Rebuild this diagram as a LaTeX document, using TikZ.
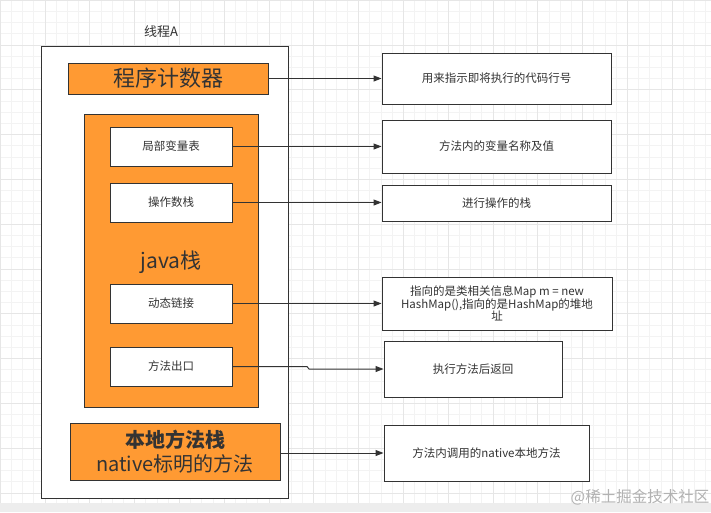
\documentclass[tikz,border=0pt]{standalone}
\usepackage{fontspec}
\setmainfont{Noto Sans CJK SC}
\usetikzlibrary{arrows.meta}
\definecolor{orangefill}{HTML}{FF9A33}
\definecolor{edge}{HTML}{333333}
\definecolor{txt}{HTML}{333333}
\definecolor{gridminor}{HTML}{F3F3F3}
\definecolor{gridmajor}{HTML}{E6E6E6}
\tikzset{
  frame/.style={draw=edge, line width=1pt, fill=white, inner sep=0pt},
  orangebox/.style={draw=edge, line width=1pt, fill=orangefill, inner sep=0pt, text=txt, align=center},
  whitebox/.style={draw=edge, line width=1pt, fill=white, inner sep=0pt, text=txt, align=center, font=\fontsize{11.5}{14}\selectfont},
  conn/.style={draw=edge, line width=1pt, -{Triangle[length=8pt,width=6pt]}},
}
\begin{document}
\begin{tikzpicture}[x=1pt,y=-1pt]
\useasboundingbox (0,0) rectangle (711,512);
\fill[white] (0,0) rectangle (711,512);
% grid
\foreach \i in {0,...,64} {\draw[gridminor, line width=0.5pt] ({\i*11.2},0) -- ({\i*11.2},512);}
\foreach \j in {0,...,46} {\draw[gridminor, line width=0.5pt] (0,{\j*11.2}) -- (711,{\j*11.2});}
\foreach \i in {0,...,16} {\draw[gridmajor, line width=0.6pt] ({\i*44.8},0) -- ({\i*44.8},512);}
\foreach \j in {0,...,11} {\draw[gridmajor, line width=0.6pt] (0,{\j*44.8}) -- (711,{\j*44.8});}
\fill[black!7] (0,503) rectangle (711,512);

% thread frame
\node[frame, minimum width=247pt, minimum height=452pt] (frame) at (164.5,272) {};
\node[text=txt, font=\fontsize{13}{15}\selectfont] (tlabel) at (161,32) {线程A};

% left side
\node[orangebox, minimum width=200pt, minimum height=31pt, font=\fontsize{22}{26}\selectfont] (pc) at (168,78.5) {程序计数器};
\node[orangebox, minimum width=174pt, minimum height=293pt] (java) at (171,260.5) {};
\node[text=txt, font=\fontsize{21}{25}\selectfont] (javalabel) at (171,262) {java栈};
\node[whitebox, minimum width=122pt, minimum height=39pt] (lv) at (171,146.5) {局部变量表};
\node[whitebox, minimum width=122pt, minimum height=39pt] (os) at (171,202.5) {操作数栈};
\node[whitebox, minimum width=122pt, minimum height=39pt] (dl) at (171,303.5) {动态链接};
\node[whitebox, minimum width=122pt, minimum height=39pt] (me) at (171,366.5) {方法出口};
\node[orangebox, minimum width=210pt, minimum height=57pt, font=\fontsize{20}{24}\selectfont] (nat) at (175,452) {\textbf{本地方法栈}\\native标明的方法};

% right side
\node[whitebox, minimum width=229pt, minimum height=51pt] (r1) at (496.5,78.5) {用来指示即将执行的代码行号};
\node[whitebox, minimum width=229pt, minimum height=53pt] (r2) at (496.5,146.5) {方法内的变量名称及值};
\node[whitebox, minimum width=229pt, minimum height=36pt] (r3) at (496.5,203) {进行操作的栈};
\node[whitebox, minimum width=230pt, minimum height=53pt, font=\fontsize{11.5}{12.5}\selectfont] (r4) at (497,303.5) {指向的是类相关信息Map m = new\\HashMap(),指向的是HashMap的堆地\\址};
\node[whitebox, minimum width=178pt, minimum height=56pt] (r5) at (473,369) {执行方法后返回};
\node[whitebox, minimum width=205pt, minimum height=56pt] (r6) at (486.5,453) {方法内调用的native本地方法};

% connectors
\draw[conn] (pc.east) -- (pc.east -| r1.west);
\draw[conn] (lv.east) -- (lv.east -| r2.west);
\draw[conn] (os.east) -- (os.east -| r3.west);
\draw[conn] (dl.east) -- (dl.east -| r4.west);
\coordinate (j1) at (307,366.5);
\coordinate (j2) at (309,369);
\draw[conn] (me.east) -- (j1) -- (j2) -- (j2 -| r5.west);
\draw[conn] (nat.east) ++(0,1) coordinate (n1) -- (n1 -| r6.west);

% watermark
\node[text=black!30, font=\fontsize{15.5}{18}\selectfont] (wm) at (640,497) {@稀土掘金技术社区};
\end{tikzpicture}
\end{document}
